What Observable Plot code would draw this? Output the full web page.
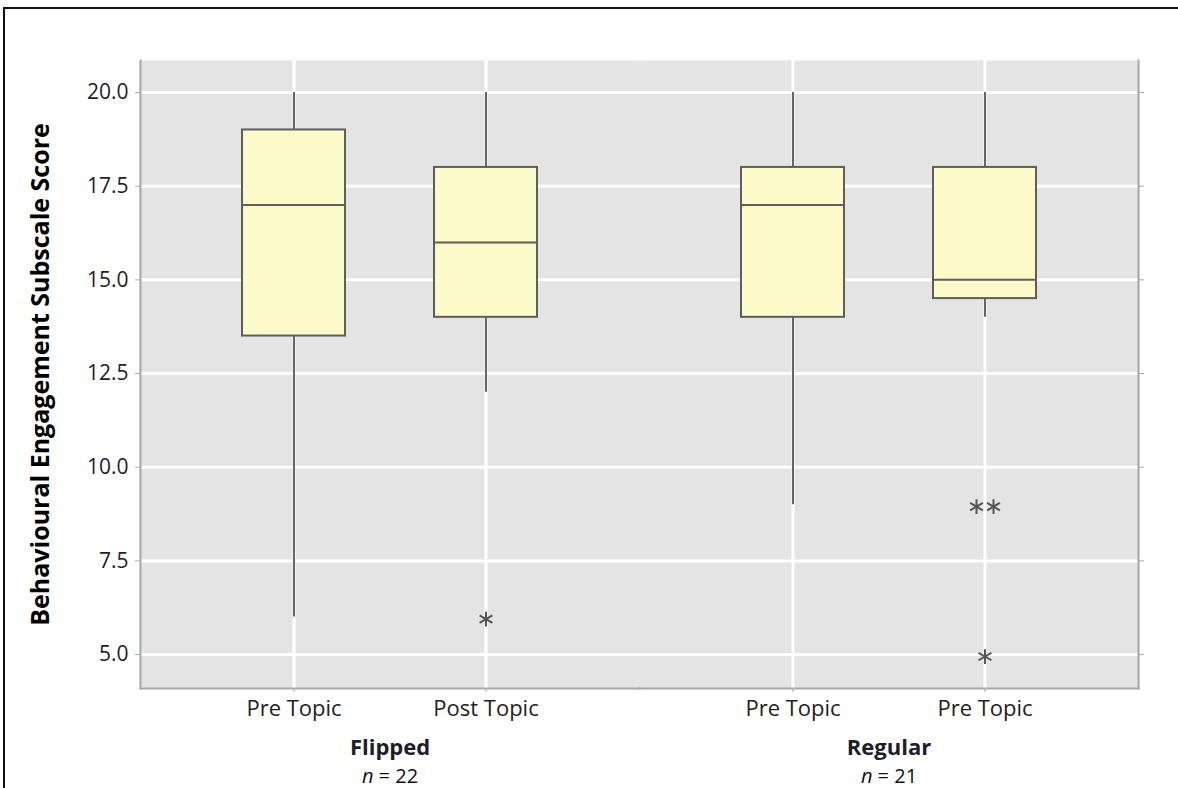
<!DOCTYPE html>
<html>
<head>
<meta charset="utf-8">
<script src="https://cdn.jsdelivr.net/npm/d3@7"></script>
<script src="https://cdn.jsdelivr.net/npm/@observablehq/plot@0.6"></script>
<style>
  html, body { margin: 0; padding: 0; background: #fff; overflow: hidden; width: 1178px; height: 788px; }
  #wrap { position: relative; width: 1178px; height: 788px; }
  #border { position: absolute; left: 3px; top: 7px; width: 1400px; height: 1000px; border-left: 2.5px solid #111; border-top: 2.5px solid #111; }
  #chart { position: absolute; left: 0; top: 0; }
</style>
</head>
<body>
<div id="wrap"><div id="border"></div><div id="chart"></div></div>
<script>
// ---- data ----
const groupNames = ["Flipped", "Regular"];
const groupN = [22, 21];
const boxGroup = ["Flipped", "Flipped", "Regular", "Regular"];
const boxCond = ["Pre", "Post", "Pre", "Post"];
const boxLabel = ["Pre Topic", "Post Topic", "Pre Topic", "Pre Topic"];
const whiskerLow = [6, 12, 9, 14];
const q1 = [13.5, 14, 14, 14.5];
const median = [17, 16, 17, 15];
const q3 = [19, 18, 18, 18];
const whiskerHigh = [20, 20, 20, 20];
const outlierGroup = ["Flipped", "Regular", "Regular", "Regular"];
const outlierCond = ["Post", "Post", "Post", "Post"];
const outlierValue = [6, 9, 9, 5];
const yTicks = [5, 7.5, 10, 12.5, 15, 17.5, 20];
const yTitle = "Behavioural Engagement Subscale Score";

// ---- build tables ----
const boxes = boxGroup.map((g, i) => ({
  group: g, cond: boxCond[i], label: boxLabel[i],
  lo: whiskerLow[i], q1: q1[i], med: median[i], q3: q3[i], hi: whiskerHigh[i]
}));
const outliers = outlierValue.map((v, i) => ({group: outlierGroup[i], cond: outlierCond[i], value: v}));
// count duplicates so that identical outliers are drawn side by side
const dupCount = new Map();
outliers.forEach(o => { const k = o.group + "|" + o.cond + "|" + o.value; dupCount.set(k, (dupCount.get(k) || 0) + 1); });
const seen = new Map();
outliers.forEach(o => {
  const k = o.group + "|" + o.cond + "|" + o.value;
  o.n = dupCount.get(k); o.k = seen.get(k) || 0; seen.set(k, o.k + 1);
});
const combos = Array.from(new Set(outliers.map(o => o.n + "|" + o.k)));
const outlierMarks = combos.map(c => {
  const [n, k] = c.split("|").map(Number);
  return Plot.dot(outliers.filter(o => o.n === n && o.k === k), {
    x: "cond", fx: "group", y: "value", symbol: "asterisk", r: 7,
    stroke: "#555", strokeWidth: 2, dx: (k - (n - 1) / 2) * 17, dy: 2
  });
});

const axisGray = "#a8a8a8";
const boxStroke = "#5e5e5e";

const chart = Plot.plot({
  width: 1178, height: 788,
  marginLeft: 140, marginRight: 40, marginTop: 60, marginBottom: 100,
  style: {fontFamily: "'Open Sans', sans-serif", fontSize: "19px", color: "#1d1d2b", background: "transparent", overflow: "visible"},
  fx: {domain: groupNames, padding: 0, axis: null, label: null},
  x: {type: "band", domain: ["Pre", "Post"], paddingInner: 0.464, paddingOuter: 0.531, axis: null, label: null},
  y: {domain: [4.094, 20.854], axis: null, label: null},
  marks: [
    Plot.frame({fill: "#e4e4e4", stroke: "none", insetLeft: -1, insetRight: -1}),
    Plot.gridY(yTicks, {stroke: "#fff", strokeOpacity: 1, strokeWidth: 3}),
    Plot.gridX({stroke: "#fff", strokeOpacity: 1, strokeWidth: 3}),
    Plot.frame({anchor: "bottom", stroke: axisGray, strokeWidth: 2, strokeLinecap: "square"}),
    Plot.frame({anchor: "left", stroke: axisGray, strokeWidth: 2, facetAnchor: "left"}),
    Plot.frame({anchor: "right", stroke: axisGray, strokeWidth: 2, facetAnchor: "right"}),
    Plot.axisY(yTicks, {anchor: "left", tickFormat: d => d.toFixed(1), tickSize: 5, tickPadding: 7, stroke: axisGray, fill: "#1d1d2b", fontSize: 21, label: null}),
    Plot.axisY(yTicks, {anchor: "right", tickFormat: () => "", tickSize: 5, stroke: axisGray, label: null}),
    Plot.axisX({anchor: "bottom", tickFormat: () => "", tickSize: 4, stroke: axisGray, label: null}),
    Plot.ruleX(boxes, {x: "cond", fx: "group", y1: "q3", y2: "hi", stroke: "#666", strokeWidth: 2}),
    Plot.ruleX(boxes, {x: "cond", fx: "group", y1: "lo", y2: "q1", stroke: "#666", strokeWidth: 2}),
    Plot.barY(boxes, {x: "cond", fx: "group", y1: "q1", y2: "q3", fill: "#fcfac8", stroke: boxStroke, strokeWidth: 2}),
    Plot.tickY(boxes, {x: "cond", fx: "group", y: "med", stroke: boxStroke, strokeWidth: 2}),
    ...outlierMarks,
    Plot.text(boxes, {x: "cond", fx: "group", text: "label", frameAnchor: "bottom", dy: 27, fontSize: 22, fill: "#222"}),
    Plot.text(groupNames, {fx: d => d, text: d => d, frameAnchor: "bottom", dy: 66, fontSize: 22, fontWeight: "bold", fill: "#1d1d2b"}),
    Plot.text(groupNames, {fx: d => d, text: (d, i) => "n = " + groupN[i], frameAnchor: "bottom", dy: 94, fontSize: 20, fill: "#111"}),
    Plot.text([yTitle], {frameAnchor: "left", textAnchor: "middle", text: d => d, rotate: -90, dx: -100, fontSize: 25, fontWeight: "bold", fill: "#000", facetAnchor: "left"})
  ]
});
document.getElementById("chart").appendChild(chart);
// italic "n" in the sample-size labels
d3.select(chart).selectAll("text").each(function() {
  const t = this.textContent;
  if (/^n = \d+$/.test(t)) {
    const sel = d3.select(this);
    sel.text(null);
    sel.append("tspan").attr("font-style", "italic").text("n");
    sel.append("tspan").text(t.slice(1));
  }
});
</script>
</body>
</html>
